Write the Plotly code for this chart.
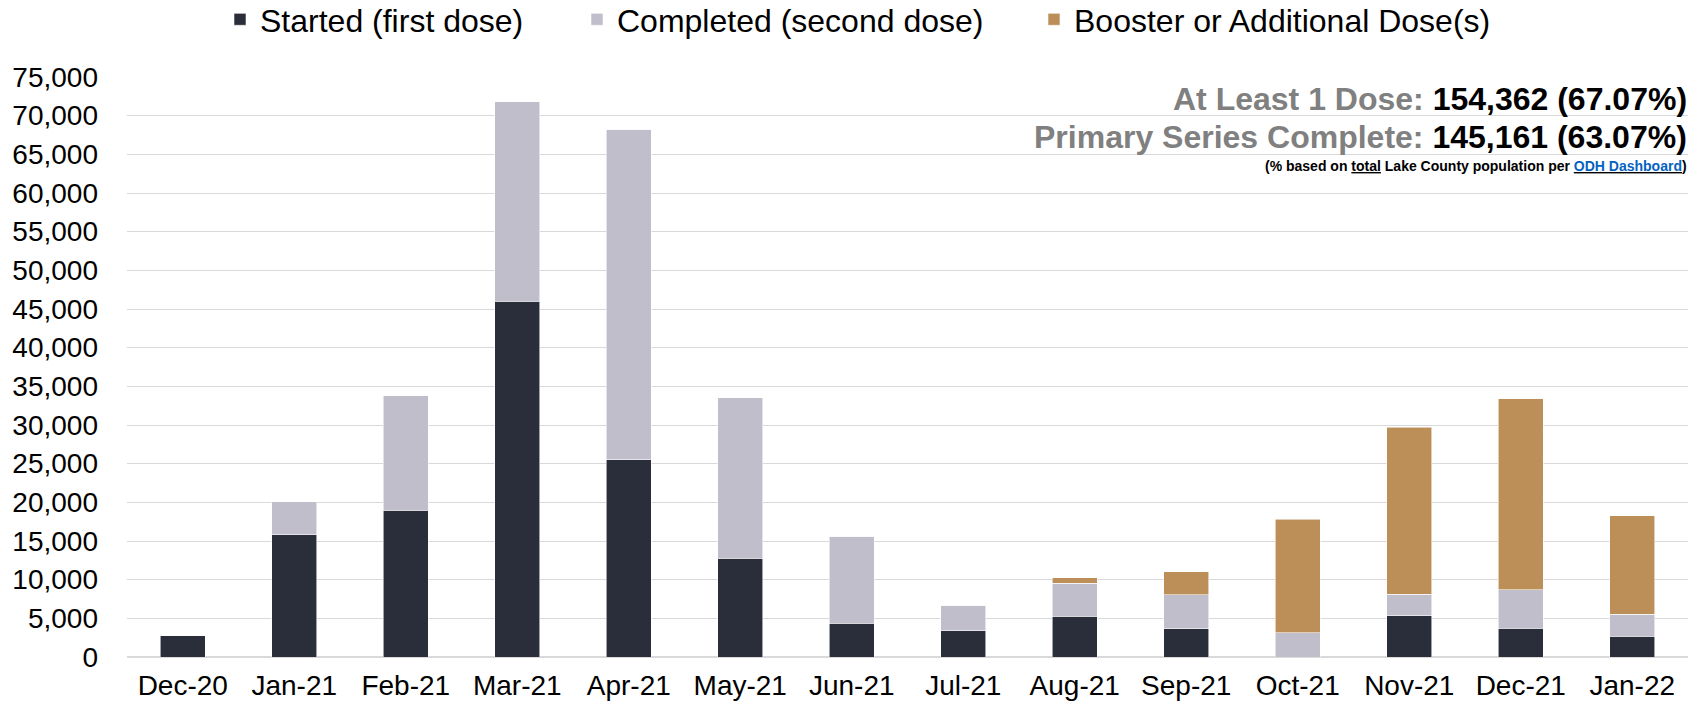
import plotly.graph_objects as go

months = ["Dec-20", "Jan-21", "Feb-21", "Mar-21", "Apr-21", "May-21", "Jun-21",
          "Jul-21", "Aug-21", "Sep-21", "Oct-21", "Nov-21", "Dec-21", "Jan-22"]
started = [2830, 15810, 18990, 46000, 25530, 12760, 4370, 3380, 5250, 3670, 0, 5320, 3720, 2680]
completed = [0, 4270, 14820, 25780, 42730, 20760, 11270, 3340, 4290, 4370, 3160, 2800, 4970, 2850]
booster = [0, 0, 0, 0, 0, 0, 0, 0, 740, 2980, 14640, 21570, 24710, 12740]

series_names = ["Started (first dose)", "Completed (second dose)", "Booster or Additional Dose(s)"]
series_colors = ["#2A2E3A", "#C0BECB", "#BC8F58"]
series_values = [started, completed, booster]
y_ticks = list(range(0, 75001, 5000))

FONT = "Liberation Sans, Arial, sans-serif"
W, H = 1700, 704
L, R, T, B = 127, 12, 77, 47

fig = go.Figure()
legend_ids = ["legend", "legend2", "legend3"]
for name, col, vals, lg in zip(series_names, series_colors, series_values, legend_ids):
    fig.add_trace(go.Bar(
        x=months, y=vals, name=name, legend=lg, showlegend=True,
        marker=dict(color=col, line=dict(color="rgba(255,255,255,0.7)", width=0.8)),
    ))

legend_x = [220, 577, 1034]
leg_common = dict(orientation="h", xref="container", yref="container",
                  xanchor="left", yanchor="middle", y=1 - 19.5 / H,
                  font=dict(family=FONT, size=32, color="#000000"),
                  bgcolor="rgba(0,0,0,0)", borderwidth=0, itemwidth=30)
fig.update_layout(
    showlegend=True,
    legend=dict(x=legend_x[0] / W, **leg_common),
    legend2=dict(x=legend_x[1] / W, **leg_common),
    legend3=dict(x=legend_x[2] / W, **leg_common),
)

fig.update_layout(
    width=W, height=H,
    barmode="stack", bargap=0.6,
    plot_bgcolor="white", paper_bgcolor="white",
    margin=dict(l=L, r=R, t=T, b=B, pad=0, autoexpand=False),
    font=dict(family=FONT, color="#000000"),
    xaxis=dict(showgrid=False, showline=False, zeroline=False, ticks="",
               automargin=False,
               tickfont=dict(size=28, family=FONT, color="#000000"),
               ticklabelstandoff=9),
    yaxis=dict(range=[0, 75000], tickvals=y_ticks, tickformat=",d",
               automargin=False,
               showgrid=True, gridcolor="#D9D9D9", gridwidth=1.3,
               zeroline=True, zerolinecolor="#D9D9D9", zerolinewidth=1.6,
               showline=False, ticks="",
               tickfont=dict(size=28, family=FONT, color="#000000"),
               ticklabelstandoff=28),
)

plot_h = H - T - B
def py(yp):
    return 1 - (yp - T) / plot_h

x_right = (1689 - L) / (W - L - R)
fig.add_annotation(
    xref="paper", yref="paper", x=x_right, y=py(99), xanchor="right", yanchor="middle",
    showarrow=False, align="right",
    text="<b><span style='color:#808080'>At Least 1 Dose:</span> 154,362 (67.07%)</b>",
    font=dict(family=FONT, size=32, color="#000000"),
)
fig.add_annotation(
    xref="paper", yref="paper", x=x_right, y=py(137), xanchor="right", yanchor="middle",
    showarrow=False, align="right",
    text="<b><span style='color:#808080'>Primary Series Complete:</span> 145,161 (63.07%)</b>",
    font=dict(family=FONT, size=32, color="#000000"),
)
fig.add_annotation(
    xref="paper", yref="paper", x=x_right, y=py(166), xanchor="right", yanchor="middle",
    showarrow=False, align="right",
    text="<b>(% based on <u>total</u> Lake County population per "
         "<u><span style='color:#0563C1'>ODH Dashboard</span></u>)</b>",
    font=dict(family=FONT, size=14, color="#000000"),
)

fig.write_html("out.html", config={"displayModeBar": False},
               post_script="document.body.style.margin='0';")
